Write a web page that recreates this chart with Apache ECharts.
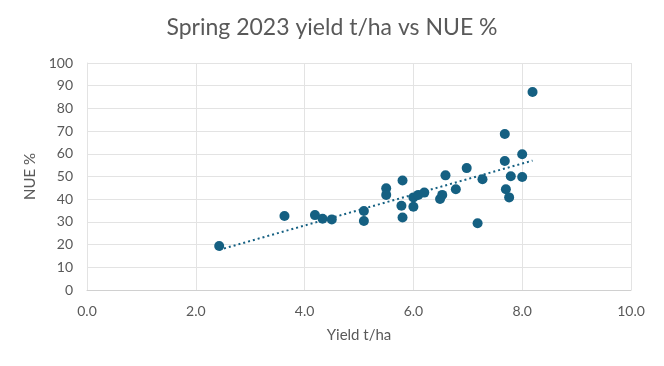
<!DOCTYPE html>
<html>
<head>
<meta charset="utf-8">
<script src="https://cdn.jsdelivr.net/npm/echarts@6/dist/echarts.min.js"></script>
<style>html,body{margin:0;padding:0;background:#fff}#c{width:664px;height:366px}</style>
</head>
<body>
<div id="c"></div>
<script>
const titleText = 'Spring 2023 yield t/ha vs NUE %';
const xName = 'Yield t/ha';
const yName = 'NUE %';
const yieldValues = [2.43, 3.63, 4.19, 4.33, 4.50, 5.09, 5.09, 5.50, 5.50, 5.80, 5.78, 5.80, 6.00, 6.00, 6.09, 6.20, 6.49, 6.53, 6.59, 6.78, 6.98, 7.18, 7.27, 7.68, 7.68, 7.70, 7.76, 7.79, 8.00, 8.00, 8.19];
const nueValues   = [19.4, 32.6, 33.0, 31.4, 31.1, 34.8, 30.4, 44.8, 41.9, 48.2, 37.1, 31.9, 40.8, 36.7, 41.9, 42.9, 40.1, 41.9, 50.5, 44.4, 53.7, 29.4, 48.8, 68.7, 56.8, 44.4, 40.8, 50.1, 59.8, 49.8, 87.2];
const trendX = [2.43, 8.19];
const trendY = [17.7, 57.0];

const points = yieldValues.map((x, i) => [x, nueValues[i]]);
const trend = trendX.map((x, i) => [x, trendY[i]]);
const txt = '#595959';
const font = 'Lato';

const chart = echarts.init(document.getElementById('c'), null, {renderer: 'canvas'});
chart.setOption({
  animation: false,
  backgroundColor: '#fff',
  title: {
    text: titleText, left: 'center', top: 11,
    textStyle: {color: txt, fontFamily: font, fontSize: 23, fontWeight: 'normal'}
  },
  grid: {left: 87, right: 33, top: 63, bottom: 76},
  xAxis: {
    type: 'value', min: 0, max: 10, interval: 2,
    name: xName, nameLocation: 'middle', nameGap: 38,
    nameTextStyle: {color: txt, fontFamily: font, fontSize: 15},
    axisLabel: {color: txt, fontFamily: font, fontSize: 14, margin: 14, formatter: v => v.toFixed(1)},
    axisLine: {show: true, lineStyle: {color: '#d0d0d0', width: 1}},
    axisTick: {show: false},
    splitLine: {show: true, lineStyle: {color: '#e3e3e3', width: 1}}
  },
  yAxis: {
    type: 'value', min: 0, max: 100, interval: 10,
    name: yName, nameLocation: 'middle', nameGap: 46, nameRotate: 90,
    nameTextStyle: {color: txt, fontFamily: font, fontSize: 15},
    axisLabel: {color: txt, fontFamily: font, fontSize: 14, margin: 14},
    axisLine: {show: true, lineStyle: {color: '#e3e3e3', width: 1}},
    axisTick: {show: false},
    splitLine: {show: true, lineStyle: {color: '#e3e3e3', width: 1}}
  },
  series: [
    {
      type: 'line', data: trend, symbol: 'none', silent: true,
      lineStyle: {color: '#156082', width: 2, type: [2, 3]}, z: 1
    },
    {
      type: 'scatter', data: points, symbol: 'circle', symbolSize: 10,
      itemStyle: {color: '#156082', opacity: 1}, z: 2
    }
  ]
});
</script>
</body>
</html>
